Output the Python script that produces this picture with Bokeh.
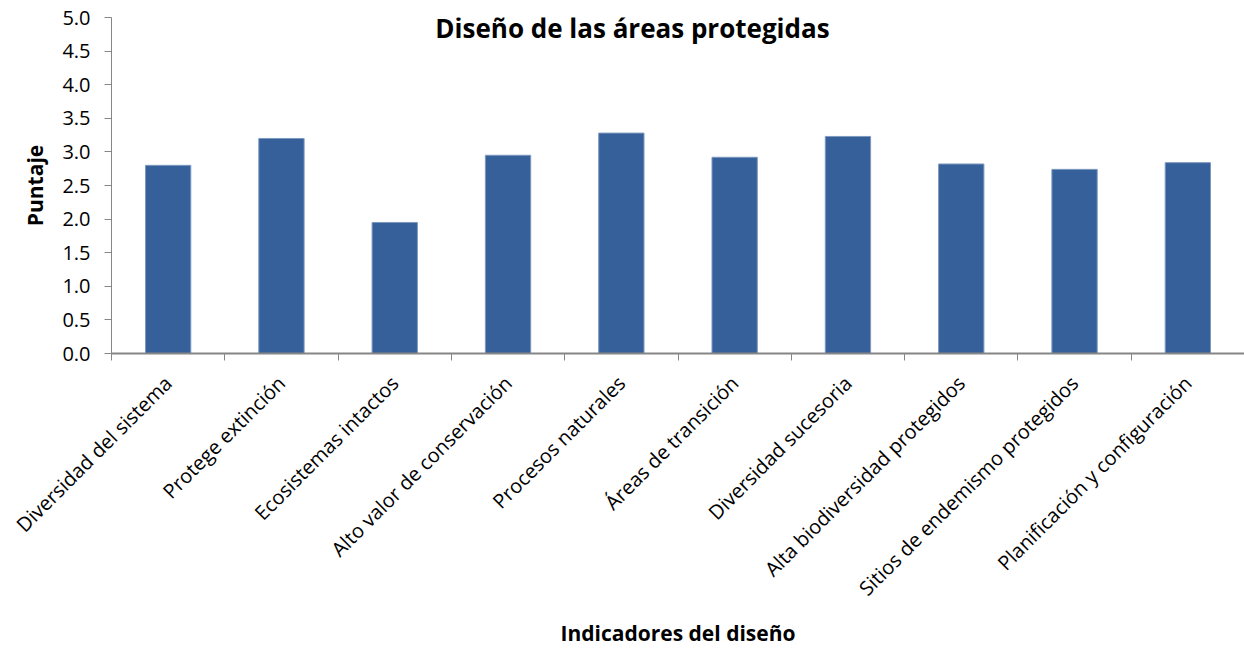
import math
from bokeh.plotting import figure
from bokeh.models import Range1d, FixedTicker, Label
from bokeh.embed import file_html
from bokeh.resources import INLINE

categories = [
    "Diversidad del sistema",
    "Protege extinción",
    "Ecosistemas intactos",
    "Alto valor de conservación",
    "Procesos naturales",
    "Áreas de transición",
    "Diversidad sucesoria",
    "Alta biodiversidad protegidos",
    "Sitios de endemismo protegidos",
    "Planificación y configuración",
]
scores = [2.80, 3.20, 1.95, 2.95, 3.28, 2.92, 3.23, 2.82, 2.74, 2.84]
y_ticks = [0.0, 0.5, 1.0, 1.5, 2.0, 2.5, 3.0, 3.5, 4.0, 4.5, 5.0]

title_text = "Diseño de las áreas protegidas"
x_title = "Indicadores del diseño"
y_title = "Puntaje"

FONT = "Open Sans"
AXIS_COLOR = "#868686"
BAR_COLOR = "#36609A"

n = len(categories)
xs = [i + 0.5 for i in range(n)]

p = figure(width=1244, height=649, output_backend="svg", toolbar_location=None,
           x_range=Range1d(0, n), y_range=Range1d(0, 5),
           min_border_left=111, min_border_right=0, min_border_top=17,
           min_border_bottom=295)
p.outline_line_color = None
p.xgrid.grid_line_color = None
p.ygrid.grid_line_color = None
p.background_fill_color = "white"
p.border_fill_color = "white"

p.vbar(x=xs, top=scores, width=0.4, bottom=0, fill_color=BAR_COLOR,
       line_color="#7E99C0", line_width=1)

# Y axis
ya = p.yaxis[0]
ya.ticker = FixedTicker(ticks=y_ticks)
ya.major_label_overrides = {t: f"{t:.1f}" for t in y_ticks}
ya.axis_line_color = AXIS_COLOR
ya.major_tick_line_color = AXIS_COLOR
ya.major_tick_out = 7
ya.major_tick_in = 0
ya.minor_tick_line_color = None
ya.major_label_text_font = FONT
ya.major_label_text_font_size = "20px"
ya.major_label_text_color = "black"
ya.major_label_standoff = 14
ya.axis_label = y_title
ya.axis_label_text_font = FONT
ya.axis_label_text_font_style = "bold"
ya.axis_label_text_font_size = "21px"
ya.axis_label_text_color = "black"
ya.axis_label_standoff = 10

# X axis: labels at centres, ticks at boundaries
xa = p.xaxis[0]
xa.ticker = FixedTicker(ticks=xs, minor_ticks=list(range(n + 1)))
xa.major_label_overrides = {x: c for x, c in zip(xs, categories)}
xa.major_label_orientation = math.pi / 4
xa.axis_line_color = AXIS_COLOR
xa.axis_line_width = 2
xa.major_tick_line_color = None
xa.minor_tick_line_color = AXIS_COLOR
xa.minor_tick_out = 7
xa.minor_tick_in = 0
xa.major_label_text_font = FONT
xa.major_label_text_font_size = "20px"
xa.major_label_text_color = "black"
xa.major_label_standoff = 19
xa.axis_label = x_title
xa.axis_label_text_font = FONT
xa.axis_label_text_font_style = "bold"
xa.axis_label_text_font_size = "21px"
xa.axis_label_text_color = "black"
xa.axis_label_standoff = 5

p.add_layout(Label(x=521, y=326, x_units="screen", y_units="screen",
                   text=title_text, text_align="center", text_baseline="alphabetic",
                   text_font=FONT, text_font_style="bold",
                   text_font_size="26px", text_color="black"))

open("out.html", "w").write(file_html(p, INLINE))
